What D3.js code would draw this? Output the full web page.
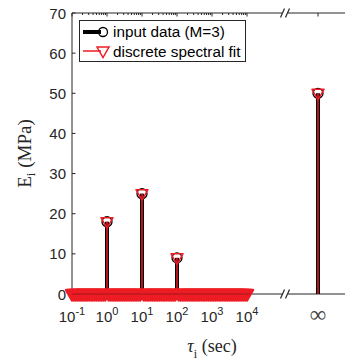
<!DOCTYPE html>
<html>
<head>
<meta charset="utf-8">
<script src="https://cdn.jsdelivr.net/npm/d3@7"></script>
<style>
  body { margin: 0; background: #fff; }
  svg { display: block; }
</style>
</head>
<body>
<div id="container"><svg></svg></div>
<script>
// input data (M=3): tau in sec, E in MPa
const inputTau = [1, 10, 100, Infinity];
const inputE = [18, 25, 9, 50];

// discrete spectral fit: the three modes + infinity, and many zero modes over 10^-1..10^4
const fitTau = [1, 10, 100, Infinity];
const fitE = [18, 25, 9, 50];
const zeroExp = [-1, -0.95, -0.9, -0.85, -0.8, -0.75, -0.7, -0.65, -0.6, -0.55, -0.5, -0.45, -0.4, -0.35, -0.3, -0.25, -0.2, -0.15, -0.1, -0.05,
  0.05, 0.1, 0.15, 0.2, 0.25, 0.3, 0.35, 0.4, 0.45, 0.5, 0.55, 0.6, 0.65, 0.7, 0.75, 0.8, 0.85, 0.9, 0.95,
  1.05, 1.1, 1.15, 1.2, 1.25, 1.3, 1.35, 1.4, 1.45, 1.5, 1.55, 1.6, 1.65, 1.7, 1.75, 1.8, 1.85, 1.9, 1.95,
  2.05, 2.1, 2.15, 2.2, 2.25, 2.3, 2.35, 2.4, 2.45, 2.5, 2.55, 2.6, 2.65, 2.7, 2.75, 2.8, 2.85, 2.9, 2.95,
  3, 3.05, 3.1, 3.15, 3.2, 3.25, 3.3, 3.35, 3.4, 3.45, 3.5, 3.55, 3.6, 3.65, 3.7, 3.75, 3.8, 3.85, 3.9, 3.95, 4];
zeroExp.forEach(e => { fitTau.push(Math.pow(10, e)); fitE.push(0); });

const yTicks = [0, 10, 20, 30, 40, 50, 60, 70];
const xTickExp = [-1, 0, 1, 2, 3, 4];

let width = 345, height = 360;
let axisColor = '#262626';
let red = '#ed1c24';
let sans = "'Liberation Sans', Arial, Helvetica, sans-serif";
let serif = "'Liberation Serif', 'Times New Roman', serif";

let padL = 72, padR = 345, padT = 13, padB = 294;
let xBreak = 285, xInfPos = 318;

let svg = d3.select('#container').select('svg')
    .attr('width', width)
    .attr('height', height);

let xLog = d3.scaleLog().domain([0.1, 1e4]).range([padL, 247]);
let x = t => (t === Infinity ? xInfPos : xLog(t));
let y = d3.scaleLinear().domain([0, 70]).range([padB, padT]);

// axes lines
let ax = svg.append('g').attr('stroke', axisColor).attr('stroke-width', 1);
ax.append('line').attr('x1', padL).attr('x2', padL).attr('y1', padT).attr('y2', padB);
[padT, padB].forEach(yy => {
    ax.append('line').attr('x1', padL).attr('x2', padR).attr('y1', yy).attr('y2', yy);
});

// y ticks (inward)
yTicks.forEach(v => {
    ax.append('line').attr('x1', padL).attr('x2', padL + 3.5).attr('y1', y(v)).attr('y2', y(v));
});
svg.append('g').selectAll('text')
    .data(yTicks)
    .enter().append('text')
    .attr('x', 66)
    .attr('y', d => y(d) + 5.5)
    .attr('text-anchor', 'end')
    .attr('font-family', sans)
    .attr('font-size', '15px')
    .attr('fill', axisColor)
    .text(d => d);

// x ticks, major + minor, top and bottom
xTickExp.forEach(e => {
    let xx = xLog(Math.pow(10, e));
    ax.append('line').attr('x1', xx).attr('x2', xx).attr('y1', padT).attr('y2', padT + 3.5);
    ax.append('line').attr('x1', xx).attr('x2', xx).attr('y1', padB).attr('y2', padB - 3.5);
    if (e < 4) {
        for (let m = 2; m <= 9; m++) {
            let xm = xLog(m * Math.pow(10, e));
            ax.append('line').attr('x1', xm).attr('x2', xm).attr('y1', padT).attr('y2', padT + 2);
            ax.append('line').attr('x1', xm).attr('x2', xm).attr('y1', padB).attr('y2', padB - 2);
        }
    }
});
[padT, padB].forEach((yy, i) => {
    ax.append('line').attr('x1', xInfPos).attr('x2', xInfPos).attr('y1', yy).attr('y2', i ? yy - 3.5 : yy + 3.5);
});

// axis breaks //
[padT, padB].forEach(yy => {
    svg.append('rect').attr('x', xBreak - 3).attr('y', yy - 2).attr('width', 6).attr('height', 4).attr('fill', '#fff');
    [-2.5, 2.5].forEach(dx => {
        svg.append('line')
            .attr('x1', xBreak + dx - 2).attr('y1', yy + 4.5)
            .attr('x2', xBreak + dx + 2).attr('y2', yy - 4.5)
            .attr('stroke', axisColor).attr('stroke-width', 1.2);
    });
});

// x tick labels
let xl = svg.append('g')
    .attr('font-family', sans)
    .attr('fill', axisColor);
xTickExp.forEach(e => {
    let t = xl.append('text')
        .attr('x', xLog(Math.pow(10, e)))
        .attr('y', 322)
        .attr('text-anchor', 'middle')
        .attr('font-size', '15px');
    t.append('tspan').text('10');
    t.append('tspan').attr('dy', -7).attr('font-size', '11px').text(e);
});
xl.append('text')
    .attr('x', xInfPos)
    .attr('y', 322)
    .attr('text-anchor', 'middle')
    .attr('font-size', '23px')
    .attr('font-family', serif)
    .attr('fill', '#444')
    .text('\u221e');

// axis labels
let yl = svg.append('text')
    .attr('transform', `translate(31, ${(padT + padB) / 2}) rotate(-90)`)
    .attr('text-anchor', 'middle')
    .attr('font-family', serif)
    .attr('font-size', '19px')
    .attr('fill', axisColor);
yl.append('tspan').text('E');
yl.append('tspan').attr('dy', 4).attr('font-size', '13px').text('i');
yl.append('tspan').attr('dy', -4).text(' (MPa)');

let xlab = svg.append('text')
    .attr('x', 212)
    .attr('y', 352)
    .attr('text-anchor', 'middle')
    .attr('font-family', serif)
    .attr('font-size', '18px')
    .attr('fill', axisColor);
xlab.append('tspan').attr('font-style', 'italic').text('\u03c4');
xlab.append('tspan').attr('dy', 6).attr('font-size', '12px').text('i');
xlab.append('tspan').attr('dy', -6).text(' (sec)');

// triangle marker path (pointing down)
let tri = (cx, cy) => `M${cx - 6},${cy - 4}L${cx + 6},${cy - 4}L${cx},${cy + 6.5}Z`;

// input data: thick black stems + circles
let inputIdx = d3.range(inputTau.length);
svg.append('g').selectAll('line')
    .data(inputIdx)
    .enter().append('line')
    .attr('x1', i => x(inputTau[i])).attr('x2', i => x(inputTau[i]))
    .attr('y1', y(0)).attr('y2', i => y(inputE[i]))
    .attr('stroke', '#000').attr('stroke-width', 4);
svg.append('g').selectAll('circle')
    .data(inputIdx)
    .enter().append('circle')
    .attr('cx', i => x(inputTau[i]))
    .attr('cy', i => y(inputE[i]))
    .attr('r', 5)
    .attr('fill', 'none')
    .attr('stroke', '#000').attr('stroke-width', 1.3);

// fit: thin red stems + triangles (zero modes are packed so tight they merge into a band)
let fitIdx = d3.range(fitTau.length);
svg.append('g').selectAll('line')
    .data(fitIdx)
    .enter().append('line')
    .attr('x1', i => x(fitTau[i])).attr('x2', i => x(fitTau[i]))
    .attr('y1', y(0)).attr('y2', i => y(fitE[i]))
    .attr('stroke', red).attr('stroke-width', 1.5);
svg.append('g').selectAll('path')
    .data(fitIdx)
    .enter().append('path')
    .attr('d', i => tri(x(fitTau[i]), y(fitE[i])))
    .attr('fill', i => fitE[i] === 0 ? red : 'none')
    .attr('stroke', red)
    .attr('stroke-width', i => fitE[i] === 0 ? 2.5 : 1.5)
    .attr('stroke-linejoin', 'round');

// axis line seen through the band
svg.append('line')
    .attr('x1', padL).attr('x2', 250).attr('y1', padB).attr('y2', padB)
    .attr('stroke', '#5a1010').attr('stroke-opacity', 0.5).attr('stroke-width', 1);

// legend
let lg = svg.append('g');
lg.append('rect')
    .attr('x', 79.5).attr('y', 20.5).attr('width', 166).attr('height', 41)
    .attr('fill', '#fff').attr('stroke', axisColor).attr('stroke-width', 1);
lg.append('line').attr('x1', 83).attr('x2', 101).attr('y1', 32).attr('y2', 32)
    .attr('stroke', '#000').attr('stroke-width', 4);
lg.append('circle').attr('cx', 103).attr('cy', 32).attr('r', 4.5)
    .attr('fill', 'none').attr('stroke', '#000').attr('stroke-width', 1.3);
lg.append('line').attr('x1', 83).attr('x2', 101).attr('y1', 51).attr('y2', 51)
    .attr('stroke', red).attr('stroke-width', 1.5);
lg.append('path').attr('d', tri(103, 51))
    .attr('fill', 'none').attr('stroke', red).attr('stroke-width', 1.5);
lg.append('text').attr('x', 113).attr('y', 37)
    .attr('font-family', sans).attr('font-size', '15.3px').attr('fill', '#000')
    .text('input data (M=3)');
lg.append('text').attr('x', 113).attr('y', 56.5)
    .attr('font-family', sans).attr('font-size', '15.3px').attr('fill', '#000')
    .text('discrete spectral fit');
</script>
</body>
</html>
